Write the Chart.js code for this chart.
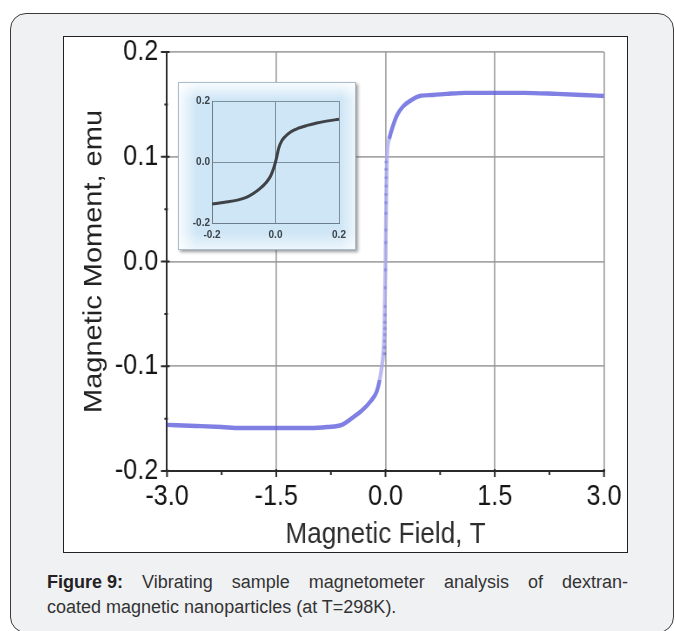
<!DOCTYPE html>
<html><head><meta charset="utf-8">
<script src="https://cdn.jsdelivr.net/npm/chart.js@4.4.1/dist/chart.umd.min.js"></script>
<style>
html,body{margin:0;padding:0;background:#fff;width:675px;height:631px;overflow:hidden;font-family:"Liberation Sans",Arial,sans-serif;}
#card{position:absolute;left:10px;top:13px;width:664px;height:620px;border:1.5px solid #3c3c3c;border-radius:16px;background:#f0f1f3;box-sizing:border-box;}
#frame{position:absolute;left:63px;top:36px;width:565px;height:517px;border:1.5px solid #222;background:#fff;box-sizing:border-box;}
#mainWrap{position:absolute;left:64px;top:37px;width:562px;height:514px;overflow:hidden;}
#main{position:absolute;left:0;top:0;transform:scaleX(0.87);transform-origin:0 0;}
#insetBox{position:absolute;left:178px;top:82px;width:178px;height:168px;box-sizing:border-box;border:1px solid #a9bccb;
 background:
  linear-gradient(to bottom, rgba(255,255,255,0.85), rgba(255,255,255,0) 10%, rgba(255,255,255,0) 90%, rgba(255,255,255,0.6)),
  linear-gradient(to right, rgba(255,255,255,0.85), rgba(255,255,255,0) 10%, rgba(255,255,255,0) 92%, rgba(255,255,255,0.6)),
  #cfe6f6;
 box-shadow:2px 2px 3px rgba(90,90,90,0.6);}
#inset{position:absolute;left:0;top:0;}
#caption{position:absolute;left:47px;top:570px;width:581px;font-size:18px;line-height:25px;color:#333;white-space:nowrap;}
#caption .l1{text-align:justify;text-align-last:justify;}
#caption b{color:#222;display:inline-block;}
</style>
</head><body>
<div id="card"></div>
<div id="frame"></div>
<div id="mainWrap"><canvas id="main"></canvas></div>
<div id="insetBox"><canvas id="inset"></canvas></div>
<div id="caption"><div class="l1"><b>Figure 9:</b> Vibrating sample magnetometer analysis of dextran-</div><div>coated magnetic nanoparticles (at T=298K).</div></div>
<script>
// ---- data ----
const fieldT = [-3.0,-2.6,-2.25,-2.0,-1.5,-1.04,-0.8,-0.6,-0.45,-0.32,-0.2,-0.12,-0.08,-0.05,-0.03,-0.015,0.0,0.01,0.02,0.05,0.1,0.16,0.24,0.33,0.47,0.65,0.84,1.1,1.53,1.9,2.35,2.7,3.0];
const momentEmu = [-0.156,-0.157,-0.158,-0.159,-0.159,-0.159,-0.158,-0.156,-0.149,-0.142,-0.133,-0.124,-0.113,-0.100,-0.088,-0.065,0.0,0.06,0.100,0.117,0.129,0.140,0.148,0.153,0.158,0.159,0.160,0.161,0.161,0.161,0.160,0.159,0.158];
const dotField = [0.01,0.01,0.01,0.01,0.008,0.008,0.006,0.005,0.004,0.0,-0.004,-0.006,-0.008,-0.01,-0.01,-0.012,-0.014,-0.016,-0.018];
const dotMoment = [0.095,0.088,0.080,0.072,0.064,0.056,0.046,0.030,0.018,-0.008,-0.025,-0.043,-0.051,-0.058,-0.064,-0.070,-0.076,-0.082,-0.088];
const insetField = [-0.2,-0.16,-0.12,-0.09,-0.07,-0.05,-0.03,-0.015,-0.005,0.0,0.005,0.01,0.02,0.03,0.05,0.07,0.1,0.13,0.16,0.2];
const insetMoment = [-0.138,-0.132,-0.125,-0.115,-0.103,-0.088,-0.068,-0.045,-0.018,0.0,0.022,0.045,0.07,0.083,0.1,0.11,0.12,0.128,0.134,0.14];
const xMajorTicks = [-3.0,-1.5,0.0,1.5,3.0];
const xMinorTicks = [-2.25,-0.75,0.75,2.25];
const yMajorTicks = [-0.2,-0.1,0.0,0.1,0.2];
const yMinorTicks = [-0.15,-0.05,0.05,0.15];
const xTitle = "Magnetic Field, T";
const yTitle = "Magnetic Moment, emu";

const SX = 0.87;          // horizontal squeeze of the original picture
const W = 562, H = 514;   // css size of the main canvas box
const LW = Math.round(W / SX);
const cv = document.getElementById('main');
cv.width = LW; cv.height = H;

function noPad(s) { s.paddingTop = 0; s.paddingBottom = 0; s.paddingLeft = 0; s.paddingRight = 0; }

const tickPlugin = {
  id: 'minorTicks',
  afterDraw(chart) {
    const ctx = chart.ctx, xs = chart.scales.x, ys = chart.scales.y;
    const ax = xs.getPixelForValue(-3), ay = ys.getPixelForValue(-0.2);
    ctx.save();
    ctx.strokeStyle = '#2a2a2a';
    ctx.lineWidth = 2;
    ctx.beginPath();
    yMajorTicks.forEach(v => { const p = ys.getPixelForValue(v); ctx.moveTo(ax - 7, p); ctx.lineTo(ax + 3, p); });
    yMinorTicks.forEach(v => { const p = ys.getPixelForValue(v); ctx.moveTo(ax - 3, p); ctx.lineTo(ax + 1, p); });
    xMajorTicks.forEach(v => { const p = xs.getPixelForValue(v); ctx.moveTo(p, ay - 2); ctx.lineTo(p, ay + 6); });
    xMinorTicks.forEach(v => { const p = xs.getPixelForValue(v); ctx.moveTo(p, ay); ctx.lineTo(p, ay + 4); });
    ctx.stroke();
    ctx.restore();
  }
};

const mainPts = fieldT.map((x, i) => ({x, y: momentEmu[i]}));
const dotPts = dotField.map((x, i) => ({x, y: dotMoment[i]}));

new Chart(cv, {
  type: 'line',
  data: {
    datasets: [
      {
        data: mainPts,
        borderColor: 'rgba(92,92,220,0.78)',
        borderWidth: 4.4,
        pointRadius: 0,
        cubicInterpolationMode: 'monotone',
        segment: {
          borderColor: c => (Math.abs(c.p0.parsed.x) < 0.09 && Math.abs(c.p1.parsed.x) < 0.09) ? 'rgba(170,170,238,0.8)' : undefined
        }
      },
      {
        data: dotPts,
        showLine: false,
        pointRadius: 1.8,
        pointBackgroundColor: 'rgba(40,40,170,0.9)',
        pointBorderWidth: 0
      }
    ]
  },
  options: {
    responsive: false,
    devicePixelRatio: 1,
    animation: false,
    events: [],
    layout: { padding: { top: 15, right: LW - 540 / SX, left: 0, bottom: 0 } },
    plugins: { legend: { display: false }, tooltip: { enabled: false } },
    scales: {
      x: {
        type: 'linear', min: -3, max: 3,
        afterFit: s => { s.height = H - 434; noPad(s); },
        afterBuildTicks: s => { s.ticks = xMajorTicks.map(v => ({value: v})); },
        ticks: { callback: v => v.toFixed(1), color: '#151515', font: { family: 'Liberation Sans', size: 29 }, padding: 9, maxRotation: 0, autoSkip: false },
        grid: { color: 'rgba(150,150,150,0.85)', lineWidth: 1.8, drawTicks: false },
        border: { color: '#2a2a2a', width: 2 },
        title: { display: true, text: xTitle, color: '#2e2e2e', font: { family: 'Liberation Sans', size: 30, lineHeight: 1.1 }, padding: { top: 0, bottom: 0 } }
      },
      y: {
        type: 'linear', min: -0.2, max: 0.2,
        afterFit: s => { s.width = 103 / SX; noPad(s); },
        afterBuildTicks: s => { s.ticks = yMajorTicks.map(v => ({value: v})); },
        ticks: { callback: v => v.toFixed(1), color: '#151515', font: { family: 'Liberation Sans', size: 29 }, padding: 10 },
        grid: { color: 'rgba(150,150,150,0.85)', lineWidth: 1.8, drawTicks: false },
        border: { color: '#2a2a2a', width: 2 },
        title: { display: true, text: yTitle, color: '#222', font: { family: 'Liberation Sans', size: 29, lineHeight: 1.2 }, padding: { top: 18, bottom: 0 } }
      }
    }
  },
  plugins: [tickPlugin]
});

// ---- inset ----
const ic = document.getElementById('inset');
const IW = 176, IH = 166;
ic.width = IW; ic.height = IH;
const insetPts = insetField.map((x, i) => ({x, y: insetMoment[i]}));
const insetTicks = [-0.2, 0.0, 0.2];
new Chart(ic, {
  type: 'line',
  data: { datasets: [{ data: insetPts, borderColor: '#3f4347', borderWidth: 3, pointRadius: 0, cubicInterpolationMode: 'monotone' }] },
  options: {
    responsive: false, devicePixelRatio: 1, animation: false, events: [],
    layout: { padding: { top: 18, right: IW - 160, left: 0, bottom: 0 } },
    plugins: { legend: { display: false }, tooltip: { enabled: false } },
    scales: {
      x: {
        type: 'linear', min: -0.2, max: 0.2,
        afterFit: s => { s.height = IH - 140; noPad(s); },
        afterBuildTicks: s => { s.ticks = insetTicks.map(v => ({value: v})); },
        ticks: { callback: v => v.toFixed(1), color: '#3c4248', font: { family: 'Liberation Sans', size: 10, weight: 'bold' }, padding: 6, maxRotation: 0, autoSkip: false },
        grid: { color: '#7d909e', lineWidth: 1, drawTicks: false },
        border: { color: '#6c7e8b', width: 1 }
      },
      y: {
        type: 'linear', min: -0.2, max: 0.2,
        afterFit: s => { s.width = 33; noPad(s); },
        afterBuildTicks: s => { s.ticks = insetTicks.map(v => ({value: v})); },
        ticks: { callback: v => v.toFixed(1), color: '#3c4248', font: { family: 'Liberation Sans', size: 10, weight: 'bold' }, padding: 2 },
        grid: { color: '#7d909e', lineWidth: 1, drawTicks: false },
        border: { color: '#6c7e8b', width: 1 }
      }
    }
  }
});
</script>
</body></html>
